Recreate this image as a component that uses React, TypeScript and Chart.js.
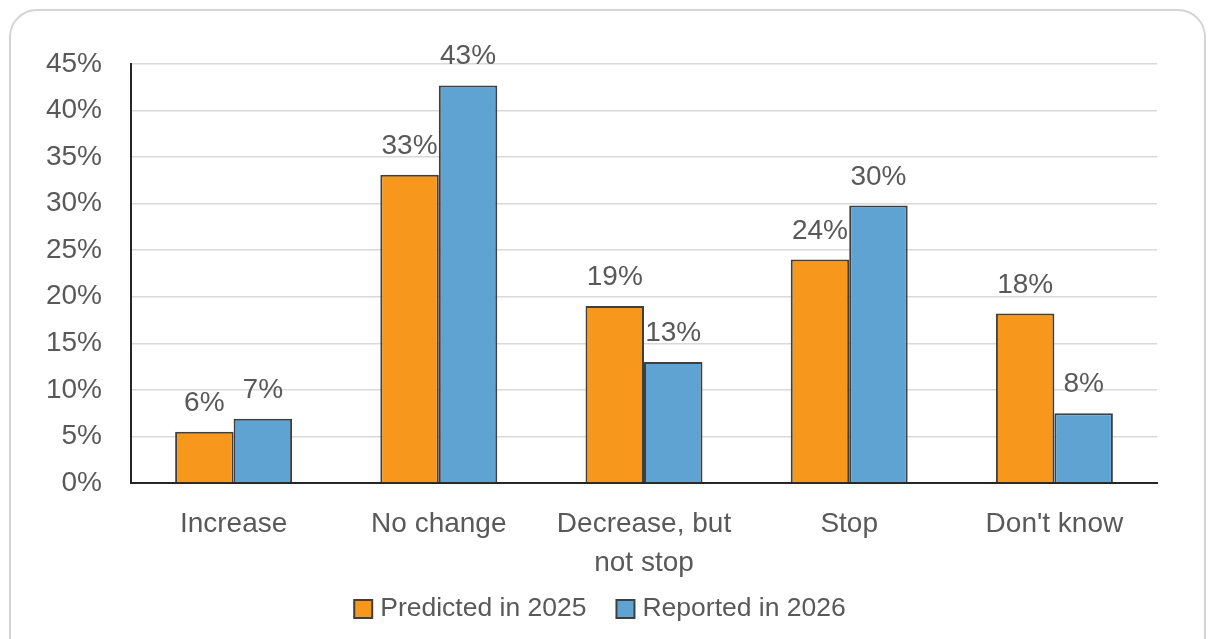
import React, { useEffect, useRef } from "react";
import { Chart, registerables } from "chart.js";

Chart.register(...registerables);

const categories: (string | string[])[] = ["Increase", "No change", ["Decrease, but", "not stop"], "Stop", "Don't know"];
const seriesNames = ["Predicted in 2025", "Reported in 2026"];
const predicted2025 = [5.5, 33.1, 19.0, 24.0, 18.2];
const reported2026 = [6.9, 42.7, 13.0, 29.8, 7.5];
const seriesColors = ["#F7981D", "#5FA3D3"];
const yTicksMax = 45;
const yTickStep = 5;

const FONT = "'Liberation Sans', Arial, sans-serif";
const TEXT = "#595959";
const EDGE = "#3F3F3F";

const valueLabels = {
  id: "valueLabels",
  afterDatasetsDraw(chart: any) {
    const ctx = chart.ctx;
    ctx.save();
    ctx.font = `28px ${FONT}`;
    ctx.fillStyle = TEXT;
    ctx.textAlign = "center";
    ctx.textBaseline = "alphabetic";
    chart.data.datasets.forEach((ds: any, di: number) => {
      const meta = chart.getDatasetMeta(di);
      meta.data.forEach((el: any, i: number) => {
        const v = ds.data[i];
        ctx.fillText(`${Math.round(v)}%`, el.x, el.y - 21);
      });
    });
    ctx.restore();
  },
};

const customLegend = {
  id: "customLegend",
  afterDraw(chart: any) {
    const ctx = chart.ctx;
    ctx.save();
    ctx.font = `26.5px ${FONT}`;
    const box = 18;
    const gap = 8;
    const spacing = 30;
    const items = chart.data.datasets.map((ds: any) => ({
      label: ds.label,
      color: ds.backgroundColor,
      w: box + gap + ctx.measureText(ds.label).width,
    }));
    const total = items.reduce((s: number, it: any) => s + it.w, 0) + spacing * (items.length - 1);
    let x = 600 - total / 2;
    const cy = 609;
    items.forEach((it: any) => {
      ctx.fillStyle = it.color;
      ctx.fillRect(x, cy - box / 2, box, box);
      ctx.strokeStyle = EDGE;
      ctx.lineWidth = 2;
      ctx.strokeRect(x, cy - box / 2, box, box);
      ctx.fillStyle = TEXT;
      ctx.textAlign = "left";
      ctx.textBaseline = "middle";
      ctx.fillText(it.label, x + box + gap, cy);
      x += it.w + spacing;
    });
    ctx.restore();
  },
};

export default function App() {
  const ref = useRef<HTMLCanvasElement | null>(null);
  useEffect(() => {
    if (!ref.current) return;
    Chart.defaults.font.family = FONT;
    const chart = new Chart(ref.current, {
      type: "bar",
      data: {
        labels: categories,
        datasets: [
          {
            label: seriesNames[0],
            data: predicted2025,
            backgroundColor: seriesColors[0],
            borderColor: EDGE,
            borderWidth: 2,
            categoryPercentage: 0.57,
            barPercentage: 1.0,
          },
          {
            label: seriesNames[1],
            data: reported2026,
            backgroundColor: seriesColors[1],
            borderColor: EDGE,
            borderWidth: 2,
            categoryPercentage: 0.57,
            barPercentage: 1.0,
          },
        ],
      },
      options: {
        responsive: false,
        animation: false,
        layout: { padding: { top: 64, right: 51, left: 0, bottom: 0 } },
        plugins: {
          legend: { display: false },
          tooltip: { enabled: false },
        },
        scales: {
          x: {
            grid: { display: false, drawTicks: false },
            border: { display: true, color: "#262626", width: 2 },
            ticks: {
              color: TEXT,
              font: { size: 28, family: FONT, lineHeight: 1.39 },
              padding: 22,
              maxRotation: 0,
              autoSkip: false,
            },
            afterFit(scale: any) {
              scale.height = 156;
            },
          },
          y: {
            min: 0,
            max: yTicksMax,
            grid: { color: "#D9D9D9", lineWidth: 1.5, drawTicks: false },
            border: { display: true, color: "#262626", width: 2 },
            ticks: {
              stepSize: yTickStep,
              color: TEXT,
              font: { size: 28, family: FONT },
              padding: 29,
              callback: (v: any) => `${v}%`,
            },
            afterFit(scale: any) {
              scale.width = 131;
            },
          },
        },
      },
      plugins: [valueLabels, customLegend],
    });
    return () => chart.destroy();
  }, []);

  return (
    <div style={{ position: "fixed", left: 0, top: 0, width: 1208, height: 639, background: "#fff", overflow: "hidden" }}>
      <div
        style={{
          position: "absolute",
          left: 9,
          top: 9,
          width: 1197,
          height: 680,
          border: "2px solid #D4D4D4",
          borderRadius: 28,
          boxSizing: "border-box",
        }}
      />
      <canvas ref={ref} width={1208} height={639} style={{ position: "absolute", left: 0, top: 0, display: "block" }} />
    </div>
  );
}
